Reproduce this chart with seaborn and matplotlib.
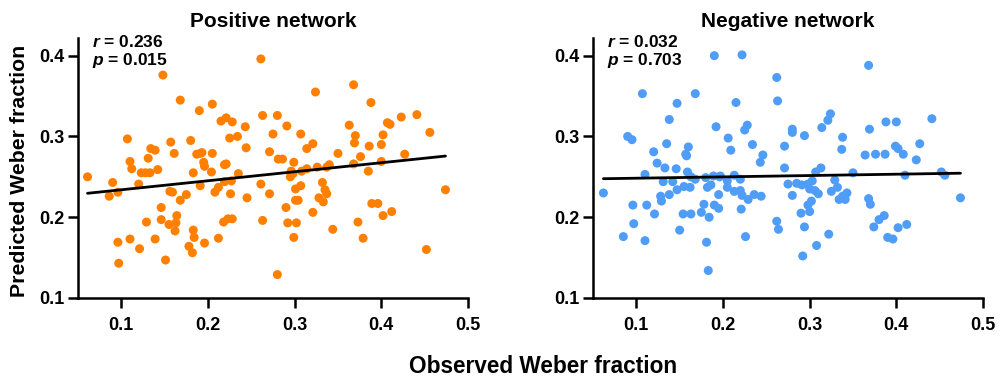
import numpy as np
import pandas as pd
import matplotlib
matplotlib.use('Agg')
from matplotlib import pyplot as plt
import seaborn as sns

# positive network: observed vs predicted Weber fraction
pos_obs = [0.061, 0.090, 0.096, 0.086, 0.107, 0.110, 0.112, 0.120, 0.123, 0.128,
           0.133, 0.131, 0.134, 0.139, 0.142, 0.148, 0.157, 0.161, 0.156, 0.159,
           0.168, 0.175, 0.168, 0.190, 0.180, 0.187, 0.191, 0.193, 0.195, 0.196,
           0.183, 0.191, 0.146, 0.146, 0.164, 0.163, 0.155, 0.162, 0.129, 0.096,
           0.110, 0.121, 0.139, 0.097, 0.151, 0.183, 0.184, 0.178, 0.182, 0.196,
           0.261, 0.205, 0.324, 0.215, 0.221, 0.228, 0.243, 0.263, 0.280, 0.291,
           0.275, 0.307, 0.225, 0.234, 0.244, 0.271, 0.205, 0.281, 0.286, 0.299,
           0.314, 0.321, 0.350, 0.219, 0.221, 0.204, 0.235, 0.219, 0.227, 0.296,
           0.298, 0.295, 0.308, 0.314, 0.326, 0.337, 0.340, 0.261, 0.332, 0.208,
           0.212, 0.226, 0.245, 0.271, 0.301, 0.307, 0.301, 0.304, 0.335, 0.337,
           0.328, 0.333, 0.290, 0.321, 0.218, 0.223, 0.228, 0.263, 0.292, 0.302,
           0.212, 0.299, 0.344, 0.280,
           0.368, 0.388, 0.363, 0.407, 0.410, 0.423, 0.441, 0.456, 0.370, 0.369,
           0.402, 0.400, 0.386, 0.376, 0.368, 0.400, 0.385, 0.427, 0.474, 0.389,
           0.396, 0.402, 0.412, 0.373, 0.379, 0.452]
pos_pred = [0.250, 0.243, 0.231, 0.226, 0.297, 0.269, 0.260, 0.241, 0.255, 0.255,
            0.255, 0.273, 0.285, 0.283, 0.259, 0.376, 0.293, 0.279, 0.232, 0.231,
            0.221, 0.228, 0.345, 0.332, 0.295, 0.278, 0.279, 0.280, 0.268, 0.263,
            0.255, 0.239, 0.212, 0.197, 0.202, 0.193, 0.191, 0.183, 0.194, 0.169,
            0.173, 0.161, 0.173, 0.143, 0.147, 0.184, 0.175, 0.164, 0.156, 0.168,
            0.396, 0.340, 0.355, 0.319, 0.323, 0.318, 0.312, 0.326, 0.326, 0.313,
            0.303, 0.303, 0.298, 0.300, 0.286, 0.281, 0.279, 0.272, 0.272, 0.268,
            0.285, 0.291, 0.279, 0.265, 0.266, 0.256, 0.254, 0.244, 0.245, 0.257,
            0.254, 0.250, 0.257, 0.260, 0.262, 0.262, 0.265, 0.241, 0.243, 0.231,
            0.237, 0.229, 0.224, 0.229, 0.235, 0.239, 0.221, 0.221, 0.234, 0.229,
            0.224, 0.219, 0.212, 0.206, 0.194, 0.198, 0.198, 0.196, 0.193, 0.193,
            0.174, 0.175, 0.185, 0.129,
            0.364, 0.342, 0.314, 0.317, 0.315, 0.324, 0.327, 0.305, 0.301, 0.292,
            0.302, 0.290, 0.288, 0.275, 0.266, 0.269, 0.257, 0.278, 0.234, 0.217,
            0.217, 0.202, 0.207, 0.194, 0.174, 0.160]

# negative network
neg_obs = [0.062, 0.190, 0.107, 0.168, 0.147, 0.138, 0.192, 0.090, 0.095, 0.135,
           0.120, 0.160, 0.157, 0.158, 0.124, 0.133, 0.146, 0.110, 0.159, 0.163,
           0.168, 0.131, 0.142, 0.180, 0.189, 0.196, 0.155, 0.162, 0.147, 0.182,
           0.186, 0.138, 0.128, 0.129, 0.096, 0.112, 0.195, 0.178, 0.190, 0.195,
           0.121, 0.154, 0.163, 0.175, 0.184, 0.097, 0.150, 0.085, 0.110, 0.181,
           0.183,
           0.222, 0.262, 0.263, 0.215, 0.324, 0.321, 0.314, 0.228, 0.225, 0.280,
           0.280, 0.294, 0.206, 0.338, 0.337, 0.234, 0.271, 0.209, 0.246, 0.243,
           0.271, 0.313, 0.307, 0.350, 0.197, 0.213, 0.220, 0.205, 0.205, 0.329,
           0.275, 0.285, 0.291, 0.298, 0.303, 0.300, 0.306, 0.310, 0.332, 0.325,
           0.343, 0.338, 0.334, 0.341, 0.213, 0.220, 0.222, 0.229, 0.236, 0.244,
           0.280, 0.221, 0.302, 0.298, 0.290, 0.300, 0.262, 0.264, 0.294, 0.322,
           0.226, 0.308, 0.292,
           0.368, 0.388, 0.400, 0.369, 0.441, 0.427, 0.399, 0.402, 0.364, 0.376,
           0.387, 0.408, 0.423, 0.410, 0.452, 0.456, 0.474, 0.368, 0.370, 0.386,
           0.380, 0.374, 0.412, 0.402, 0.390, 0.396]
neg_pred = [0.230, 0.400, 0.353, 0.353, 0.341, 0.321, 0.312, 0.300, 0.296, 0.291,
            0.281, 0.287, 0.278, 0.276, 0.267, 0.261, 0.260, 0.253, 0.256, 0.250,
            0.247, 0.244, 0.244, 0.249, 0.251, 0.250, 0.238, 0.237, 0.234, 0.237,
            0.240, 0.228, 0.226, 0.220, 0.215, 0.215, 0.228, 0.216, 0.215, 0.211,
            0.204, 0.204, 0.204, 0.206, 0.200, 0.192, 0.184, 0.176, 0.171, 0.169,
            0.134,
            0.401, 0.373, 0.344, 0.342, 0.328, 0.320, 0.311, 0.314, 0.308, 0.309,
            0.305, 0.301, 0.298, 0.299, 0.284, 0.290, 0.288, 0.283, 0.277, 0.268,
            0.261, 0.261, 0.256, 0.255, 0.251, 0.252, 0.247, 0.245, 0.237, 0.246,
            0.241, 0.242, 0.240, 0.241, 0.245, 0.235, 0.233, 0.229, 0.237, 0.232,
            0.230, 0.226, 0.222, 0.222, 0.232, 0.233, 0.227, 0.222, 0.228, 0.226,
            0.227, 0.210, 0.220, 0.215, 0.205, 0.207, 0.195, 0.185, 0.188, 0.179,
            0.176, 0.165, 0.152,
            0.388, 0.318, 0.318, 0.309, 0.322, 0.291, 0.288, 0.285, 0.277, 0.278,
            0.278, 0.278, 0.271, 0.252, 0.256, 0.252, 0.224, 0.223, 0.216, 0.202,
            0.197, 0.188, 0.191, 0.187, 0.175, 0.173]

titles = ['Positive network', 'Negative network']
r_vals = ['0.236', '0.032']
p_vals = ['0.015', '0.703']
colors = ['#FF8000', '#4F9DF6']
xticks = [0.1, 0.2, 0.3, 0.4, 0.5]
yticks = [0.1, 0.2, 0.3, 0.4]

sns.set_style('ticks')
plt.rcParams['font.family'] = ['Liberation Sans', 'DejaVu Sans']
plt.rcParams['font.weight'] = 'bold'
plt.rcParams['text.color'] = 'black'
plt.rcParams['axes.labelcolor'] = 'black'
plt.rcParams['xtick.color'] = 'black'
plt.rcParams['ytick.color'] = 'black'
plt.rcParams['mathtext.fontset'] = 'custom'
plt.rcParams['mathtext.it'] = 'Liberation Sans:italic:bold'

fig = plt.figure(figsize=(10, 3.83), dpi=100)
ax1 = fig.add_axes([0.078, 0.222, 0.390, 0.679])
ax2 = fig.add_axes([0.593, 0.222, 0.390, 0.679])

datasets = [(pos_obs, pos_pred), (neg_obs, neg_pred)]
for i, ax in enumerate([ax1, ax2]):
    df = pd.DataFrame({'obs': datasets[i][0], 'pred': datasets[i][1]})
    sns.scatterplot(data=df, x='obs', y='pred', ax=ax, color=colors[i],
                    s=42, edgecolor='none', linewidth=0, zorder=2)
    sns.regplot(data=df, x='obs', y='pred', ax=ax, scatter=False, ci=None,
                line_kws={'color': 'black', 'lw': 2, 'zorder': 3})
    ax.set_xlim(0.05, 0.5)
    ax.set_ylim(0.1, 0.422)
    ax.set_xticks(xticks)
    ax.set_yticks(yticks)
    ax.set_xticklabels([f'{t:.1f}' for t in xticks], fontsize=13, fontweight='bold')
    ax.set_yticklabels([f'{t:.1f}' for t in yticks], fontsize=13, fontweight='bold')
    ax.tick_params(direction='out', length=7, width=1.8, color='black',
                   labelcolor='black')
    ax.tick_params(axis='x', pad=7)
    ax.tick_params(axis='y', pad=3)
    for sp in ['left', 'bottom']:
        ax.spines[sp].set_linewidth(1.8)
        ax.spines[sp].set_color('black')
    sns.despine(ax=ax)
    ax.set_xlabel('')
    ax.set_ylabel('')
    ax.set_title(titles[i], fontsize=15, fontweight='bold', pad=8, color='black')
    ax.text(0.035, 0.965, '$r$ = ' + r_vals[i], transform=ax.transAxes,
            fontsize=12.5, fontweight='bold', va='baseline', color='black')
    ax.text(0.035, 0.895, '$p$ = ' + p_vals[i], transform=ax.transAxes,
            fontsize=12.5, fontweight='bold', va='baseline', color='black')

fig.text(0.02, 0.555, 'Predicted Weber fraction', rotation=90, ha='center',
         va='center', fontsize=15.3, fontweight='bold', color='black')
fig.text(0.543, 0.042, 'Observed Weber fraction', ha='center', va='center',
         fontsize=16.3, fontweight='bold', color='black')

plt.savefig('out.png', dpi=100)
